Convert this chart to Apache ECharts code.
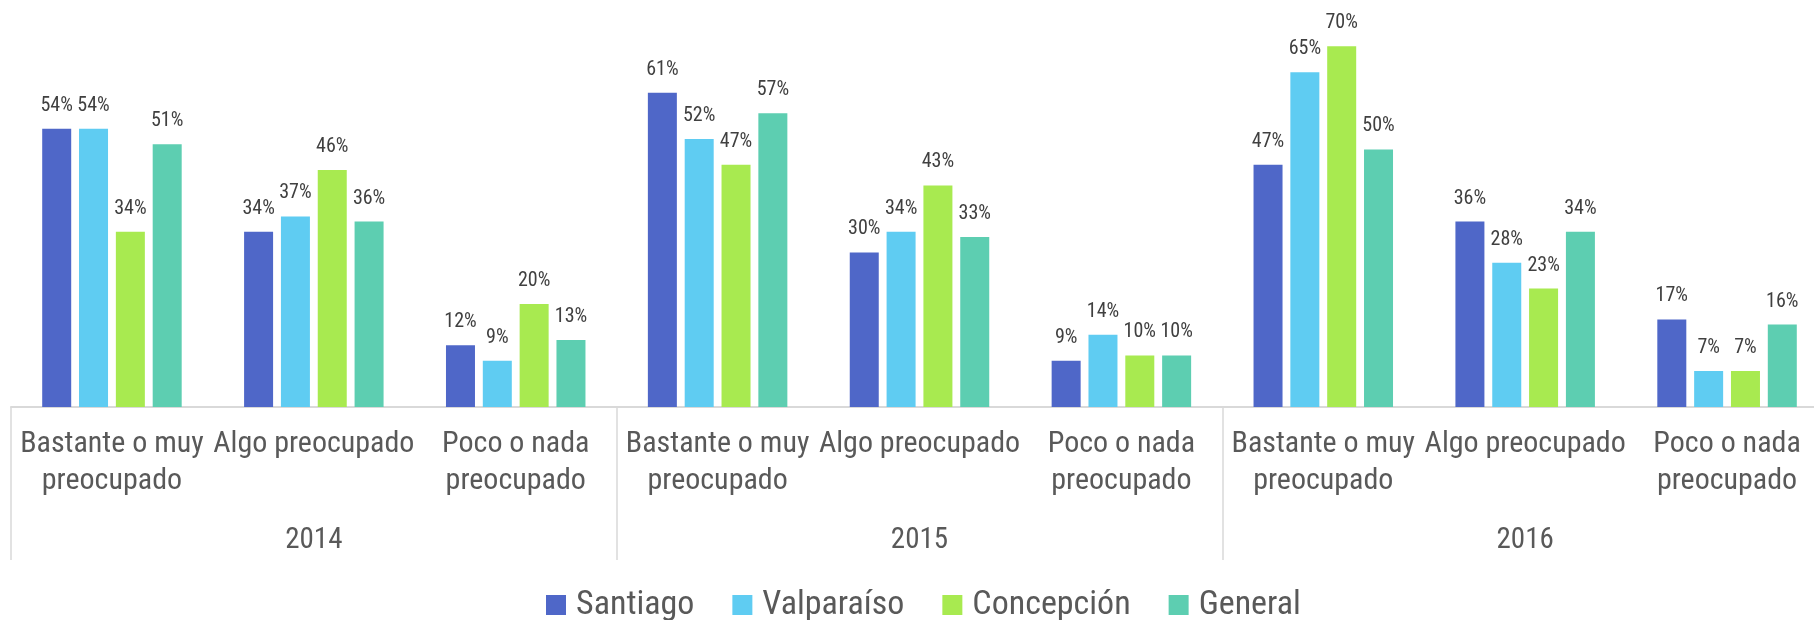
<!DOCTYPE html>
<html>
<head>
<meta charset="utf-8">
<script src="https://cdn.jsdelivr.net/npm/echarts@6/dist/echarts.min.js"></script>
<style>
html,body{margin:0;padding:0;background:#fff;}
#chart{width:1814px;height:620px;}
</style>
</head>
<body>
<div id="chart"></div>
<script>
const categories = [
  'Bastante o muy\npreocupado', 'Algo preocupado', 'Poco o nada\npreocupado',
  'Bastante o muy\npreocupado', 'Algo preocupado', 'Poco o nada\npreocupado',
  'Bastante o muy\npreocupado', 'Algo preocupado', 'Poco o nada\npreocupado'
];
const years = ['2014', '2015', '2016'];
const seriesNames = ['Santiago', 'Valparaíso', 'Concepción', 'General'];
const santiago   = [54, 34, 12, 61, 30, 9, 47, 36, 17];
const valparaiso = [54, 37, 9, 52, 34, 14, 65, 28, 7];
const concepcion = [34, 46, 20, 47, 43, 10, 70, 23, 7];
const general    = [51, 36, 13, 57, 33, 10, 50, 34, 16];
const colors = ['#4F67C8', '#5FCCF2', '#A8EA50', '#5DCEB1'];

const values = [santiago, valparaiso, concepcion, general];
// condensed Roboto (font-stretch keyword passed through the font shorthand)
const FT = {fontFamily: 'Roboto', fontStyle: 'normal', fontWeight: 'condensed'};

const chart = echarts.init(document.getElementById('chart'), null, {renderer: 'canvas'});
chart.setOption({
  animation: false,
  color: colors,
  grid: {left: 11, top: 0, width: 1817, height: 407, outerBoundsMode: 'none', containLabel: false},
  legend: {
    left: 541, top: 583,
    icon: 'rect', itemWidth: 20, itemHeight: 20, itemGap: 38,
    textStyle: Object.assign({fontSize: 34, color: '#595959', padding: [0, 0, 0, 5]}, FT),
    data: seriesNames
  },
  xAxis: [
    {
      type: 'category', data: categories, position: 'bottom',
      axisLine: {show: true, lineStyle: {color: '#d9d9d9', width: 2}},
      axisTick: {show: false},
      axisLabel: Object.assign({interval: 0, margin: 19, fontSize: 30, lineHeight: 37, color: '#595959'}, FT)
    },
    {
      type: 'category', data: years, position: 'bottom', offset: 0,
      axisLine: {show: false},
      axisTick: {show: true, length: 153, interval: 0, lineStyle: {color: '#d9d9d9', width: 1.5}},
      axisLabel: Object.assign({interval: 0, margin: 116, fontSize: 29, lineHeight: 36, color: '#595959'}, FT)
    }
  ],
  yAxis: {type: 'value', min: 0, max: 79, show: false, splitLine: {show: false}},
  series: seriesNames.map((name, i) => ({
    name: name, type: 'bar', xAxisIndex: 0,
    data: values[i],
    barWidth: 29, barGap: '27%',
    itemStyle: {color: colors[i]},
    label: Object.assign({show: true, position: 'top', distance: 13, formatter: '{c}%', fontSize: 20, color: '#404040'}, FT)
  }))
});
</script>
</body>
</html>
